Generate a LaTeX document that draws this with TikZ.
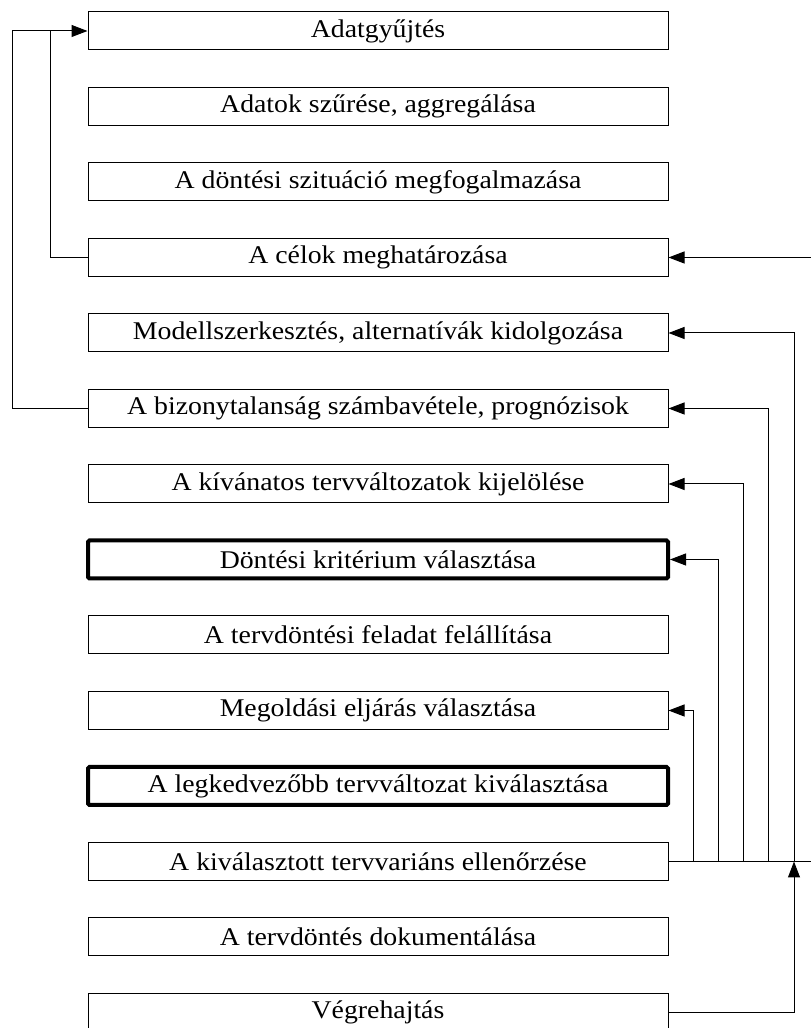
\documentclass[tikz,border=0pt]{standalone}
\usepackage{fontspec}
\setmainfont[FakeStretch=1.09]{Liberation Serif}
\usetikzlibrary{arrows.meta}
\begin{document}
\begin{tikzpicture}[x=1pt,y=1pt,
  stepbox/.style={draw,line width=1pt,minimum width=580pt,minimum height=38pt,
    inner sep=0pt,font=\fontsize{25.5}{28}\selectfont},
  keybox/.style={stepbox,line width=4pt,rounded corners=1.5pt},
  link/.style={line width=1pt},
  arr/.style={link,-{Triangle[length=16pt,width=12pt]}}]
\useasboundingbox (0,0) rectangle (811,1028);
\def\pitch{75.5}
\foreach \i/\t/\s in {
  1/Adatgyűjtés/stepbox,
  2/{Adatok szűrése, aggregálása}/stepbox,
  3/A döntési szituáció megfogalmazása/stepbox,
  4/A célok meghatározása/stepbox,
  5/{Modellszerkesztés, alternatívák kidolgozása}/stepbox,
  6/{A bizonytalanság számbavétele, prognózisok}/stepbox,
  7/A kívánatos tervváltozatok kijelölése/stepbox,
  8/Döntési kritérium választása/keybox,
  9/A tervdöntési feladat felállítása/stepbox,
  10/Megoldási eljárás választása/stepbox,
  11/A legkedvezőbb tervváltozat kiválasztása/keybox,
  12/A kiválasztott tervvariáns ellenőrzése/stepbox,
  13/A tervdöntés dokumentálása/stepbox,
  14/Végrehajtás/stepbox}
  \node[\s] (s\i) at (378,{1028-31-(\i-1)*\pitch}) {\t};

% feedback loops on the left
\coordinate (ltop) at (12,{1028-31});
\coordinate (ljoin) at (50,{1028-31});
\draw[arr] (s4.west) -| (ljoin) -- (s1.west);
\draw[link] (s6.west) -| (ltop) -- (ljoin);

% feedback bus on the right
\coordinate (rin) at (811,{1028-31-3*\pitch});
\draw[arr] (rin) -- (s4.east);
\coordinate (hub) at (794,{1028-31-11*\pitch});
\coordinate (busend) at (811,{1028-31-11*\pitch});
\draw[link] (s12.east) -- (busend);
\draw[arr] (s14.east) -| (hub);
\draw[arr] (hub) |- (s5.east);
\draw[arr] (hub -| 768,0) |- (s6.east);
\draw[arr] (hub -| 743,0) |- (s7.east);
\draw[arr] (hub -| 718,0) |- (s8.east);
\draw[arr] (hub -| 693,0) |- (s10.east);
\end{tikzpicture}
\end{document}
